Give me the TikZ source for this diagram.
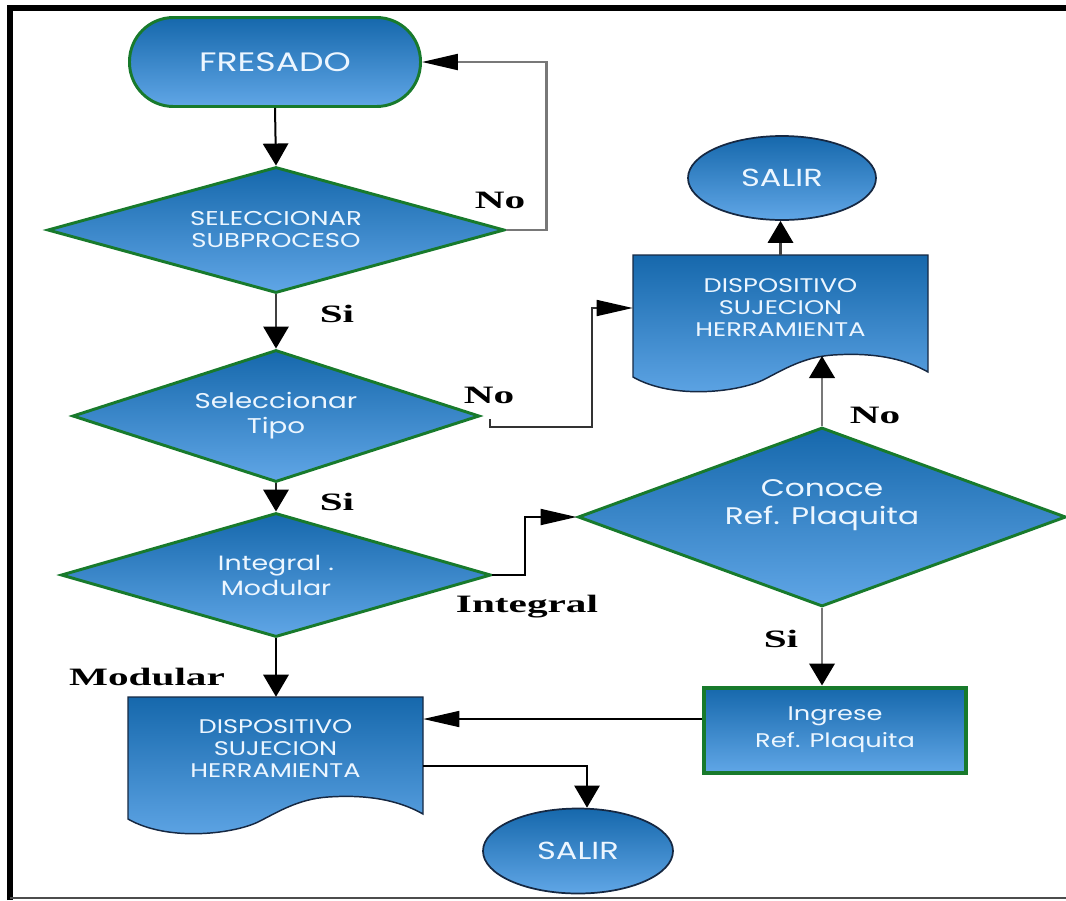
\documentclass[tikz,border=0pt]{standalone}
\usepackage{fontspec}
\usetikzlibrary{arrows.meta,shapes.geometric,calc}
\newfontfamily\shapefont[FakeStretch=1.3]{Poppins}
\newfontfamily\tagfont[FakeStretch=1.65]{Liberation Serif}
\definecolor{flowtop}{RGB}{22,104,172}
\definecolor{flowbot}{RGB}{96,166,230}
\definecolor{flowgreen}{RGB}{24,122,44}
\definecolor{flowedge}{RGB}{22,40,66}
\definecolor{flowtext}{RGB}{236,246,255}
\definecolor{linegray}{RGB}{120,120,120}

% document symbol with a wavy lower edge, 295 x 145 units, placed by its top-left corner
\newcommand\docshape[2]{%
  \path[top color=flowtop,bottom color=flowbot,draw=flowedge,line width=1.1pt,shift={(#1,#2)}]
    (0,0) -- (295,0) -- (295,117)
    .. controls (265,100) and (230,98) .. (200,100)
    .. controls (170,102) and (150,115) .. (130,125)
    .. controls (105,137) and (40,145) .. (0,122) -- cycle;}

\begin{document}
\begin{tikzpicture}[x=0.75pt,y=-0.75pt,
  shaded/.style={top color=flowtop,bottom color=flowbot},
  txt/.style={text=flowtext,align=center},
  fs/.style 2 args={font=\shapefont\fontsize{#1}{#2}\selectfont},
  terminal/.style={rectangle,rounded corners=33pt,shaded,txt,draw=flowgreen,line width=2.2pt,
    minimum width=218.25pt,minimum height=66.75pt,fs={20}{22}},
  decision/.style={diamond,shaded,txt,draw=flowgreen,line width=2.2pt,inner sep=0pt},
  exitnode/.style={ellipse,shaded,txt,draw=flowedge,line width=1.3pt,inner sep=0pt,fs={18.5}{20}},
  process/.style={rectangle,shaded,txt,draw=flowgreen,line width=3pt,
    minimum width=196.5pt,minimum height=63.75pt,fs={14.8}{20}},
  docnode/.style={rectangle,txt,inner sep=0pt,minimum width=221.25pt,fs={14.8}{16.5}},
  tag/.style={font=\tagfont\bfseries\fontsize{18.75}{22}\selectfont,inner sep=0pt,anchor=base},
  conn/.style={line width=1.5pt},
  varrow/.style={-{Triangle[length=16.5pt,width=19pt,color=black]}},
  harrow/.style={-{Triangle[length=27pt,width=12pt,color=black]}}
]
\useasboundingbox (0,0) rectangle (1066,900);

% frame
\draw[line width=4.5pt,line join=miter] (10,900) -- (10,7.5) -- (1066,7.5);
\draw[black!70,line width=1.2pt] (10,898) -- (1066,898);

% document symbols (drawn beneath their text nodes)
\docshape{633}{255}
\docshape{128}{697}

% nodes
\node[terminal] (fresado) at (275,62) {FRESADO};
\node[decision,aspect=3.63,minimum width=342.75pt,minimum height=94.5pt,fs={15}{16.5}] (d1) at (276,230)
  {SELECCIONAR\\SUBPROCESO};
\node[decision,aspect=3.08,minimum width=305.25pt,minimum height=99pt,fs={16}{18.75}] (d2) at (276,416)
  {Seleccionar\\Tipo};
\node[decision,aspect=3.47,minimum width=322.5pt,minimum height=93pt,fs={15.5}{18.75}] (d3) at (276,575)
  {Integral .\\Modular};
\node[decision,aspect=2.73,minimum width=366pt,minimum height=134.25pt] (d4) at (822,517) {};
\node[txt,fs={18}{21},inner sep=0pt] (d4t) at (822,505) {Conoce\\Ref. Plaquita};
\node[docnode,minimum height=79.5pt] (docA) at (780.5,308) {DISPOSITIVO\\SUJECION\\HERRAMIENTA};
\node[docnode,minimum height=78pt] (docB) at (275.5,749) {DISPOSITIVO\\SUJECION\\HERRAMIENTA};
\node[exitnode,minimum width=141pt,minimum height=63pt] (sal1) at (782,178) {SALIR};
\node[exitnode,minimum width=142.5pt,minimum height=63.75pt] (sal2) at (578,851) {SALIR};
\node[process] (ing) at (835,730) {Ingrese\\Ref. Plaquita};

% connectors
\coordinate (crestA) at (822,356);
\coordinate (k2) at (592,427);
\coordinate (ingout) at ([yshift=8.25pt]ing.west);
\coordinate (docBout) at ([yshift=-12.75pt]docB.east);
\coordinate (sal2in) at ([xshift=6.75pt]sal2.north);

\draw[conn,varrow] (fresado.south) -- (d1.north);
\draw[conn,linegray,line width=1.6pt,harrow] (d1.east) -| ($(fresado.east)+(124.5,0)$) -- (fresado.east);
\draw[conn,black!75,varrow] (d1.south) -- (d2.north);
\draw[conn,black!80,line width=1.2pt,harrow] ([shift={(9,3)}]d2.east) -- ++(0,8) -- (k2) |- (docA.west);
\draw[conn,black!85,line width=1.8pt,varrow] (d2.south) -- (d3.north);
\draw[conn,harrow] (d3.east) -| ($(d4.west)+(-52,0)$) -- (d4.west);
\draw[conn,linegray,line width=2.2pt,varrow] (d4.north) -- (crestA);
\draw[conn,linegray,line width=2.2pt,varrow] (d4.south) -- (d4.south |- ing.north);
\draw[conn,line width=1.1pt,harrow] (ingout) -- (ingout -| docB.east);
\draw[conn,varrow] (d3.south) -- (d3.south |- docB.north);
\draw[conn,line width=1.1pt,varrow] (docBout) -| (sal2in);
\draw[conn,black!75,line width=1.8pt,varrow] (docA.north) -- (docA.north |- sal1.south);

% branch labels
\node[tag] (lno1) at (500,208) {No};
\node[tag] (lsi1) at (337,322) {Si};
\node[tag] (lno2) at (489,403) {No};
\node[tag] (lsi2) at (337,510) {Si};
\node[tag] (lint) at (527,612) {Integral};
\node[tag] (lno4) at (875,423) {No};
\node[tag] (lsi4) at (781,647) {Si};
\node[tag] (lmod) at (147,685) {Modular};
\end{tikzpicture}
\end{document}
